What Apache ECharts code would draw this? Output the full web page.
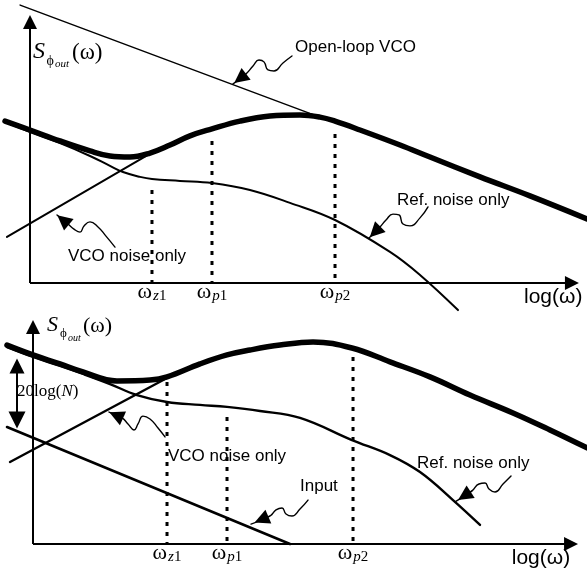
<!DOCTYPE html>
<html><head><meta charset="utf-8">
<script src="https://cdn.jsdelivr.net/npm/echarts@6/dist/echarts.min.js"></script>
<style>html,body{margin:0;padding:0;background:#fff}#c{width:587px;height:571px}</style>
</head><body><div id="c"></div>
<script>
// ---------- DATA (x: log(ω) in arbitrary decades, y: noise level in arbitrary dB) ----------
// Top panel
const topTotal = [[-0.455,60.4],[0,57.1],[0.546,53.0],[1.093,49.3],[1.457,47.4],[1.821,47.0],[2.186,48.5],[2.550,51.5],[2.914,54.9],[3.315,57.5],[3.825,60.4],[4.372,62.3],[4.918,62.7],[5.282,61.9],[5.556,60.4],[6.011,57.1],[6.740,51.5],[7.286,47.0],[8.197,39.6],[9.107,32.5],[10.146,23.9]];
const topRef = [[-0.455,60.1],[0,56.3],[0.546,52.2],[1.093,47.4],[1.457,43.7],[1.694,41.4],[2.004,39.6],[2.222,38.8],[2.732,38.1],[3.315,37.3],[4.007,34.7],[4.736,29.9],[5.556,23.5],[6.557,11.6],[7.104,3.0],[7.796,-10.1]];
const topVco = [[-0.419,17.2],[2.368,50.4]];
const topOpenLoop = [[-0.18,103.7],[5.28,61.9]];
const topTickPos = [2.222, 3.315, 5.556, 9.53];
const topMarkerStart = [34.7, 53.0, 55.6];
const topAxisEnd = [9.872, 97.39];
// Bottom panel
const botTotal = [[-0.477,88.8],[0,84.4],[0.495,80.4],[0.917,76.8],[1.541,72.8],[2.147,73.2],[2.459,74.6],[3.064,80.4],[3.560,84.4],[3.982,86.6],[4.532,88.8],[5.138,90.2],[5.853,87.5],[6.550,81.3],[7.284,74.6],[8.018,66.5],[8.807,58.5],[9.486,50.9],[10.165,42.9]];
const botRef = [[-0.477,87.9],[0,83.5],[0.495,79.5],[0.917,75.9],[1.413,71.4],[1.908,66.5],[2.459,63.4],[3.064,62.1],[3.560,61.2],[4.165,59.4],[4.899,56.3],[5.853,46.4],[6.550,39.7],[7.101,32.1],[7.706,19.6],[8.202,8.5]];
const botVco = [[-0.422,36.6],[2.459,74.1]];
const botInput = [[-0.477,52.2],[4.716,0]];
const botTickPos = [2.459, 3.560, 5.872, 9.32];
const botMarkerStart = [72.3, 56.7, 83.5];
const botAxisEnd = [9.872, 96.9];
const gainSpan = [[-0.294,79.5],[-0.294,55.4]]; // 20log(N)
// tick labels
const tickSub = [['z','1'],['p','1'],['p','2']];
const axisEndLabel = 'log(ω)';
// annotation squiggles (pointer arrows)
const sqOpenLoop = [[4.772,84.7],[4.608,82.1],[4.444,79.1],[4.335,79.5],[4.262,82.5],[4.171,83.2],[4.062,81.0],[3.934,78.0],[3.698,74.3]];
const sqTopRef = [[7.250,28.4],[7.104,24.3],[6.922,21.3],[6.794,22.0],[6.721,25.4],[6.612,25.7],[6.485,23.5],[6.375,20.9],[6.175,16.8]];
const sqTopVco = [[1.548,13.4],[1.384,17.5],[1.239,20.9],[1.093,22.8],[0.984,21.3],[0.911,19.0],[0.801,20.1],[0.692,22.0],[0.492,25.4]];
const sqBotVco = [[2.422,47.8],[2.294,51.8],[2.147,55.8],[2.018,57.1],[1.927,53.6],[1.853,50.9],[1.743,53.6],[1.633,56.3],[1.394,58.9]];
const sqInput = [[5.046,19.6],[4.899,15.6],[4.752,12.5],[4.642,13.4],[4.569,16.1],[4.459,15.2],[4.349,12.5],[4.0,8.9]];
const sqBotRef = [[8.771,30.4],[8.624,26.8],[8.477,23.2],[8.367,24.6],[8.294,27.2],[8.183,26.8],[8.055,23.7],[7.743,18.8]];

// ---------- CHART ----------
const K = '#000';
const chart = echarts.init(document.getElementById('c'), null, {renderer:'canvas'});
function ln(data, gi, w, smooth, extra) {
  return Object.assign({type:'line', xAxisIndex:gi, yAxisIndex:gi, data:data, symbol:'none', smooth:smooth||false,
    clip:false, silent:true, animation:false, lineStyle:{color:K, width:w, cap:'round', join:'round'}, z:3}, extra||{});
}
function arrowLines(coords, gi, w, sym, size) {
  return {type:'lines', coordinateSystem:'cartesian2d', xAxisIndex:gi, yAxisIndex:gi, silent:true, animation:false, clip:false,
     symbol:sym, symbolSize:size, lineStyle:{color:K, width:w, opacity:1, curveness:0}, data:[{coords:coords}], z:4};
}
function pointer(pts, gi) {
  const n = pts.length, a = pts[n-2], b = pts[n-1];
  const c = [a[0] + (b[0]-a[0])*0.45, a[1] + (b[1]-a[1])*0.45];
  return [ln(pts, gi, 1.4, 0.5), arrowLines([a, c], gi, 1.4, ['none','triangle'], [10,15])];
}
function axes(end, gi) {
  return [arrowLines([[0,0],[end[0],0]], gi, 2, ['none','triangle'], [10,14]),
          arrowLines([[0,0],[0,end[1]]], gi, 2, ['none','triangle'], [10,14])];
}
function markers(pos, starts, gi) {
  return starts.map((s,i)=>ln([[pos[i],s],[pos[i],0]], gi, 3, false, {lineStyle:{color:K, width:3, type:[4,6], cap:'butt'}}));
}
function tickFmt(pos) {
  return function(v){
    const i = pos.findIndex(p=>Math.abs(p-v)<1e-6);
    if (i === 3) return '{lg|' + axisEndLabel + '}';
    if (i < 0) return '';
    return '{w|ω}{s|' + tickSub[i][0] + '}{n|' + tickSub[i][1] + '}';
  };
}
const rich = {
  w:{fontFamily:'Liberation Serif', fontSize:22, color:K},
  s:{fontFamily:'Liberation Serif', fontStyle:'italic', fontSize:15, color:K, padding:[8,0,0,1]},
  n:{fontFamily:'Liberation Serif', fontSize:15, color:K, padding:[8,0,0,0]},
  lg:{fontFamily:'Liberation Sans', fontSize:21, color:K, padding:[6,0,0,0]}
};
function xAx(gi, max, pos) {
  return {gridIndex:gi, type:'value', min:-0.5, max:max,
    axisLine:{show:false}, axisTick:{show:false}, splitLine:{show:false},
    axisLabel:{show:true, customValues:pos, formatter:tickFmt(pos), rich:rich, margin:-2, color:K}};
}
function yAx(gi, max) {
  return {gridIndex:gi, type:'value', min:0, max:max,
    axisLine:{show:false}, axisTick:{show:false}, splitLine:{show:false}, axisLabel:{show:false}};
}
function txt(x, y, text, size, family, style) {
  return {type:'text', x:x, y:y, silent:true, z:10,
    style:{text:text, fontSize:size, fontFamily:family||'Liberation Sans', fontStyle:style||'normal', fill:K, align:'left', verticalAlign:'middle'}};
}
const series = [].concat(
  axes(topAxisEnd, 0),
  [ln(topOpenLoop,0,1.5), ln(topRef,0,2,0.4), ln(topVco,0,2), ln(topTotal,0,5.5,0.4,{z:5})],
  markers(topTickPos, topMarkerStart, 0),
  pointer(sqOpenLoop,0), pointer(sqTopRef,0), pointer(sqTopVco,0),
  axes(botAxisEnd, 1),
  [ln(botRef,1,2.4,0.4), ln(botVco,1,2.4), ln(botInput,1,2.6), ln(botTotal,1,5.5,0.4,{z:5})],
  markers(botTickPos, botMarkerStart, 1),
  pointer(sqBotVco,1), pointer(sqInput,1), pointer(sqBotRef,1),
  [arrowLines(gainSpan, 1, 2, ['triangle','triangle'], [15,17])]
);
chart.setOption({
  animation:false, backgroundColor:'#fff',
  grid:[{left:2.55, top:15, width:584.45, height:268, outerBoundsMode:'none'},
        {left:5.75, top:320, width:581.25, height:224, outerBoundsMode:'none'}],
  xAxis:[xAx(0, 10.146, topTickPos), xAx(1, 10.165, botTickPos)],
  yAxis:[yAx(0, 100), yAx(1, 100)],
  series:series,
  graphic:[
    txt(33,51.5,'S',24,'Liberation Serif','italic'), txt(46.5,61,'ϕ',14,'Liberation Serif'), txt(55,64.5,'out',11,'Liberation Serif','italic'), txt(72,52.5,'(ω)',23,'Liberation Serif'),
    txt(295,47,'Open-loop VCO',17), txt(397,200,'Ref. noise only',17), txt(68,256,'VCO noise only',17),
    txt(47,325.5,'S',22,'Liberation Serif','italic'), txt(60,334,'ϕ',13,'Liberation Serif'), txt(68,338,'out',10,'Liberation Serif','italic'), txt(83,326,'(ω)',22,'Liberation Serif'),
    {type:'text', x:17, y:392, silent:true, z:10, style:{text:'{a|20log(}{b|N}{a|)}', fill:K, verticalAlign:'middle',
      rich:{a:{fontFamily:'Liberation Serif', fontSize:17, fill:K}, b:{fontFamily:'Liberation Serif', fontStyle:'italic', fontSize:17, fill:K}}}},
    txt(168,456,'VCO noise only',17), txt(300,486,'Input',17), txt(417,463,'Ref. noise only',17)
  ]
});
</script></body></html>
